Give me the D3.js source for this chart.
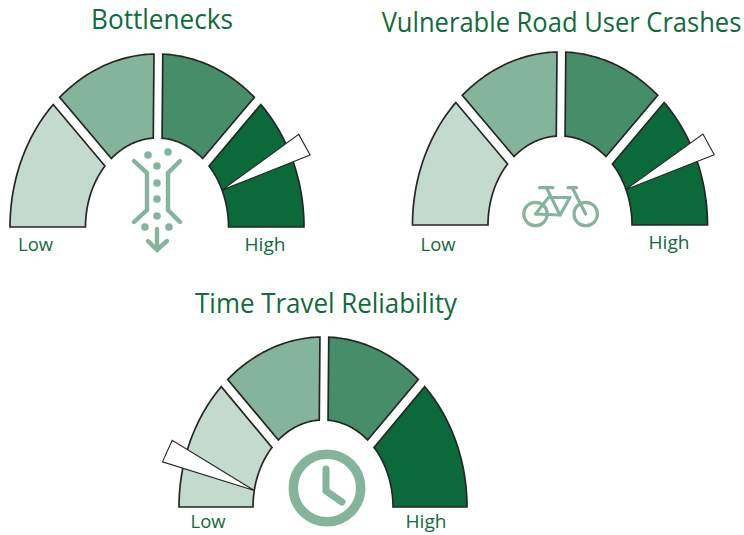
<!DOCTYPE html>
<html><head><meta charset="utf-8">
<script src="https://cdn.jsdelivr.net/npm/d3@7"></script>
<style>html,body{margin:0;padding:0;background:#fff}svg{display:block}</style>
</head><body><svg id="c" width="744" height="535"></svg>
<script>
const titles = ["Bottlenecks","Vulnerable Road User Crashes","Time Travel Reliability"];
const bandEdges = [0,26,50.3,74,100];
const bandColors = ["#c3dbcf","#85b49c","#458e69","#0b6a3a"];
const needleTip = [86.4,86.9,6.1];
const needleHead = [85.9,86.2,9.4];
const lowLabel = "Low", highLabel = "High";

const layouts = [
 {cx:157,by:227,rx:147,ry:173,ix:71.5,iy:89,tx:162,ty:29,tw:142,lx:35.5,ly:251,hx:265,hy:251,icon:"neck",k:1.11},
 {cx:560,by:225,rx:147.5,ry:173,ix:72,iy:89,tx:561.5,ty:32,tw:360,lx:438,ly:251,hx:669,hy:249,icon:"bike",k:1.11},
 {cx:323,by:507,rx:144,ry:170,ix:70,iy:87,tx:326,ty:313,tw:262,lx:208,ly:528,hx:426,hy:528,icon:"clock",k:1.13}
];
const angle = d3.scaleLinear().domain([0,100]).range([Math.PI,0]);
const svg = d3.select("#c");
const INK="#262626", GREEN="#0f6b3c", ICON="#85b49c", GAP=4.4;
const line = d3.line();

function pt(L,a,rx,ry){return [L.cx+rx*Math.cos(a), L.by-ry*Math.sin(a)];}
function bandPath(L,v0,v1){
  const a0=angle(v0), a1=angle(v1);
  const po=(v0===0?0:GAP/L.rx), pi=(v0===0?0:GAP/L.ix);
  const qo=(v1===100?0:GAP/L.rx), qi=(v1===100?0:GAP/L.ix);
  const N=40, pts=[];
  d3.range(N+1).forEach(i=>{const a=(a0-po)+((a1+qo)-(a0-po))*i/N; pts.push(pt(L,a,L.rx,L.ry));});
  d3.range(N+1).forEach(i=>{const a=(a1+qi)+((a0-pi)-(a1+qi))*i/N; pts.push(pt(L,a,L.ix,L.iy));});
  return line(pts)+"Z";
}
function needle(L,tipV,headV){
  const t=pt(L,angle(tipV),L.ix,L.iy), h=pt(L,angle(headV),L.rx*L.k,L.ry*L.k);
  const dx=h[0]-t[0],dy=h[1]-t[1],d=Math.hypot(dx,dy),nx=-dy/d,ny=dx/d,w=11.8;
  return line([t,[h[0]+nx*w,h[1]+ny*w],[h[0]-nx*w,h[1]-ny*w]])+"Z";
}
const icons={
 neck(g,L){
  const P=(x,y)=>[x-157,y-227];
  g.selectAll("path.w").data([
    [[134,161],[147,173],[147,210],[134,222]],
    [[180,161],[168,173],[168,210],[180,222]],
    [[157,229],[157,249]],
    [[148,241],[157,250],[167,241]]
  ]).join("path").attr("d",d=>line(d.map(p=>P(p[0],p[1])))).attr("fill","none")
    .attr("stroke",ICON).attr("stroke-width",4.4).attr("stroke-linecap","round").attr("stroke-linejoin","miter");
  g.selectAll("circle").data([[148,155],[168,152],[157,166],[157,183],[157,199],[157,216],[145,227],[169,227]])
   .join("circle").attr("cx",d=>P(d[0],d[1])[0]).attr("cy",d=>P(d[0],d[1])[1]).attr("r",3.8).attr("fill",ICON);
 },
 bike(g,L){
  const P=(x,y)=>[x-560,y-225];
  [[535.5,214],[585.7,214]].forEach(c=>{
    g.append("circle").attr("cx",P(...c)[0]).attr("cy",P(...c)[1]).attr("r",11.7).attr("fill","none").attr("stroke",ICON).attr("stroke-width",3.2);
  });
  g.selectAll("path").data([
    [[535.5,214],[560,215],[570,197.5],[548.5,197.5],[535.5,214]],
    [[546.7,188.3],[560,215]],
    [[572.5,188.3],[585.7,214]],
    [[539.5,187.7],[553,187.7]],
    [[568,187.7],[576.5,187.7]]
  ]).join("path").attr("d",d=>line(d.map(p=>P(p[0],p[1])))).attr("fill","none")
   .attr("stroke",ICON).attr("stroke-width",3.2).attr("stroke-linecap","round").attr("stroke-linejoin","round");
 },
 clock(g,L){
  const P=(x,y)=>[x-323,y-507];
  g.append("circle").attr("cx",P(327,488)[0]).attr("cy",P(327,488)[1]).attr("r",33.7).attr("fill","none").attr("stroke",ICON).attr("stroke-width",9.5);
  g.append("path").attr("d",line([[326,469],[326,491],[342,502]].map(p=>P(p[0],p[1])))).attr("fill","none")
   .attr("stroke",ICON).attr("stroke-width",7).attr("stroke-linecap","round").attr("stroke-linejoin","miter");
 }
};

layouts.forEach((L,i)=>{
  const g=svg.append("g");
  g.selectAll("path.band").data(d3.pairs(bandEdges)).join("path").attr("class","band")
    .attr("d",d=>bandPath(L,d[0],d[1]))
    .attr("fill",(d,j)=>bandColors[j]).attr("stroke",INK).attr("stroke-width",1.7).attr("stroke-linejoin","miter");
  g.append("path").attr("d",needle(L,needleTip[i],needleHead[i])).attr("fill","#fff").attr("stroke",INK).attr("stroke-width",1.1);
  icons[L.icon](g.append("g").attr("transform",`translate(${L.cx},${L.by})`),L);
  const T=(txt,x,y,size,tw)=>{
    const t=g.append("text").text(txt).attr("text-anchor","middle")
      .attr("font-family","'Open Sans','Noto Sans',sans-serif").attr("font-size",size).attr("fill",GREEN);
    const sx=tw/t.node().getComputedTextLength();
    t.attr("transform",`translate(${x},${y}) scale(${sx},1)`);
  };
  T(titles[i],L.tx,L.ty,27,L.tw);
  T(lowLabel,L.lx,L.ly,18,35);
  T(highLabel,L.hx,L.hy,18,41);
});
</script></body></html>
